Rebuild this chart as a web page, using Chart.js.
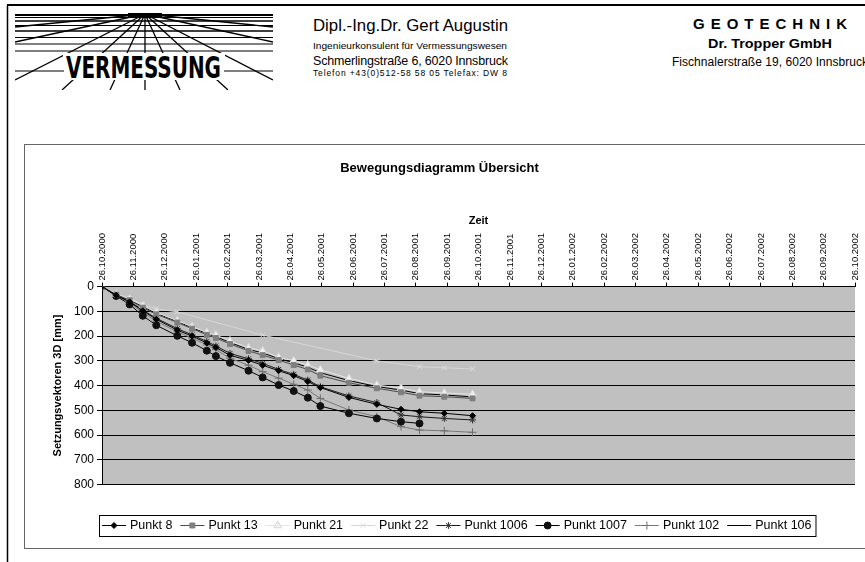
<!DOCTYPE html>
<html lang="de">
<head>
<meta charset="utf-8">
<title>Bewegungsdiagramm Übersicht</title>
<script src="https://cdn.jsdelivr.net/npm/chart.js@4.4.1/dist/chart.umd.min.js"></script>
<style>
  html, body { margin: 0; padding: 0; background: #fff; }
  body { width: 865px; height: 562px; position: relative; overflow: hidden;
         font-family: "Liberation Sans", Arial, sans-serif; }
  #blatt { position: absolute; left: 0; top: 0; }
  #diagrammRahmen { position: absolute; left: 24px; top: 144px; width: 854px; height: 405px;
                    border: 1px solid #666; box-sizing: border-box; }
  #diagramm { position: absolute; left: -1px; top: -1px; }
</style>
</head>
<body>

<!-- Briefkopf: Logo, Adressen, Blattrahmen -->
<svg id="blatt" width="865" height="562" xmlns="http://www.w3.org/2000/svg"
     font-family="'Liberation Sans', Arial, sans-serif">
  <line x1="7" y1="5" x2="865" y2="5" stroke="#000" stroke-width="2"/>
  <line x1="7.5" y1="5" x2="7.5" y2="562" stroke="#000" stroke-width="1.5"/>

  <defs><clipPath id="logoClip"><rect x="15" y="13" width="258" height="77"/></clipPath></defs>
  <g stroke="#000" clip-path="url(#logoClip)">
    <line x1="15" y1="15" x2="273" y2="15" stroke-width="2"/>
    <line x1="15" y1="17.5" x2="273" y2="17.5" stroke-width="1"/>
    <line x1="15" y1="21" x2="273" y2="21" stroke-width="1.5"/>
    <line x1="15" y1="25.5" x2="273" y2="25.5" stroke-width="1"/>
    <line x1="15" y1="31" x2="273" y2="31" stroke-width="1.5"/>
    <line x1="15" y1="37.5" x2="273" y2="37.5" stroke-width="1"/>
    <line x1="15" y1="44" x2="273" y2="44" stroke-width="1"/>
    <line x1="15" y1="51" x2="273" y2="51" stroke-width="1.2"/>
    <g stroke-width="1.3">
      <line x1="145" y1="14" x2="15" y2="27"/>
      <line x1="145" y1="14" x2="15" y2="42"/>
      <line x1="145" y1="14" x2="15" y2="80"/>
      <line x1="145" y1="14" x2="62" y2="90"/>
      <line x1="145" y1="14" x2="110" y2="90"/>
      <line x1="145" y1="14" x2="145" y2="90"/>
      <line x1="145" y1="14" x2="180" y2="90"/>
      <line x1="145" y1="14" x2="228" y2="90"/>
      <line x1="145" y1="14" x2="273" y2="80"/>
      <line x1="145" y1="14" x2="273" y2="42"/>
      <line x1="145" y1="14" x2="273" y2="27"/>
    </g>
    <rect x="128" y="13" width="34" height="4" fill="#000" stroke="none"/>
  </g>
  <rect x="63" y="53" width="162" height="27" fill="#fff"/>
  <line x1="15" y1="71" x2="64" y2="71" stroke="#000" stroke-width="1.2"/>
  <line x1="224" y1="71" x2="273" y2="71" stroke="#000" stroke-width="1.2"/>
  <text x="66" y="78" font-size="31" font-weight="bold" textLength="155" lengthAdjust="spacingAndGlyphs"
        font-family="'Liberation Sans Narrow', 'DejaVu Sans Condensed', sans-serif">VERMESSUNG</text>

  <text x="313" y="30.5" font-size="16" textLength="195" lengthAdjust="spacingAndGlyphs">Dipl.-Ing.Dr. Gert Augustin</text>
  <text x="313" y="48.5" font-size="9.5" textLength="194" lengthAdjust="spacingAndGlyphs">Ingenieurkonsulent für  Vermessungswesen</text>
  <text x="313" y="65" font-size="12.5" textLength="195" lengthAdjust="spacing">Schmerlingstraße 6, 6020 Innsbruck</text>
  <text x="313" y="76" font-size="8.5" textLength="194" lengthAdjust="spacing">Telefon +43(0)512-58 58 05   Telefax: DW 8</text>

  <text x="770" y="29" font-size="15" font-weight="bold" text-anchor="middle" textLength="154" lengthAdjust="spacing">GEOTECHNIK</text>
  <text x="770" y="47.5" font-size="13" font-weight="bold" text-anchor="middle" textLength="124" lengthAdjust="spacingAndGlyphs">Dr. Tropper GmbH</text>
  <text x="672" y="66" font-size="12" textLength="196" lengthAdjust="spacing">Fischnalerstraße 19, 6020 Innsbruck</text>
</svg>

<div id="diagrammRahmen"><canvas id="diagramm" width="854" height="405"></canvas></div>

<script>
/* ─── Daten ─── */
// Achsbeschriftung Zeit (monatlich ab 26.10.2000)
const ZEIT_LABELS = [
  '26.10.2000','26.11.2000','26.12.2000','26.01.2001','26.02.2001','26.03.2001',
  '26.04.2001','26.05.2001','26.06.2001','26.07.2001','26.08.2001','26.09.2001',
  '26.10.2001','26.11.2001','26.12.2001','26.01.2002','26.02.2002','26.03.2002',
  '26.04.2002','26.05.2002','26.06.2002','26.07.2002','26.08.2002','26.09.2002',
  '26.10.2002'
];

// Messzeitpunkte in Monaten seit 26.10.2000
const MESS_MONATE = [0, 0.45, 0.88, 1.30, 1.73, 2.40, 2.87, 3.34, 3.63, 4.08, 4.67,
                     5.12, 5.63, 6.11, 6.56, 6.96, 7.87, 8.76, 9.53, 10.12, 10.91, 11.81];

// Setzungsvektoren 3D [mm]
const PUNKT_8    = [0, 35, 62, 98, 132, 176, 200, 228, 246, 278, 298, 318, 340, 360, 384, 408, 448, 476, 496, 506, 512, 522];
const PUNKT_13   = [0, 32, 55, 85, 112, 145, 170, 195, 208, 232, 260, 277, 297, 317, 335, 360, 389, 411, 427, 441, 445, 452];
const PUNKT_21   = [0, 30, 50, 77, 104, 138, 162, 185, 196, 220, 248, 260, 286, 300, 317, 336, 371, 398, 411, 425, 430, 435];
const PUNKT_22   = [0, 30, 48, 72, 90, 102, null, null, null, null, null, 196, null, null, null, null, null, 300, null, 324, 328, 333];
const PUNKT_1006 = [0, 33, 60, 95, 128, 170, 195, 222, 240, 270, 292, 310, 335, 355, 378, 405, 442, 469, 519, 526, 533, 539];
const PUNKT_1007 = [0, 38, 72, 118, 156, 199, 227, 259, 281, 308, 340, 367, 398, 422, 449, 483, 512, 533, 546, 553, null, null];
const PUNKT_102  = [0, 35, 65, 105, 140, 183, 208, 236, 255, 290, 318, 344, 370, 395, 418, 452, 499, 526, 566, 580, 583, 589];
const PUNKT_106  = [0, 32, 53, 81, 108, 141, 166, 190, 202, 226, 254, 268, 291, 308, 326, 348, 380, 404, 418, 433, 438, 446];

const SCHRIFT = "'Liberation Sans', Arial, sans-serif";
const TICK_SCHRIFT = 9.5;

function punkte(werte) {
  return MESS_MONATE.map((m, i) => ({ x: m, y: werte[i] }));
}

function serie(label, werte, stil) {
  return Object.assign({
    label,
    data: punkte(werte),
    borderWidth: 1,
    pointBorderWidth: 1,
    spanGaps: true,
    tension: 0,
  }, stil);
}

const datasets = [
  serie('Punkt 8', PUNKT_8, { borderColor: '#000', pointStyle: 'rectRot', pointRadius: 3,
    pointBackgroundColor: '#000', pointBorderColor: '#000' }),
  serie('Punkt 13', PUNKT_13, { borderColor: '#4a4a4a', pointStyle: 'rect', pointRadius: 3.5,
    pointBackgroundColor: '#7f7f7f', pointBorderColor: '#7f7f7f' }),
  serie('Punkt 21', PUNKT_21, { borderColor: '#e4e4e4', pointStyle: 'triangle', pointRadius: 4.5,
    pointBackgroundColor: '#f0f0f0', pointBorderColor: '#d8d8d8' }),
  serie('Punkt 22', PUNKT_22, { borderColor: '#d6d6d6', pointStyle: 'crossRot', pointRadius: 3.5,
    pointBackgroundColor: '#d6d6d6', pointBorderColor: '#dedede' }),
  serie('Punkt 1006', PUNKT_1006, { borderColor: '#1a1a1a', pointStyle: 'star', pointRadius: 3.5,
    pointBackgroundColor: '#333', pointBorderColor: '#333' }),
  serie('Punkt 1007', PUNKT_1007, { borderColor: '#000', pointStyle: 'circle', pointRadius: 3.5,
    pointBackgroundColor: '#111', pointBorderColor: '#111' }),
  serie('Punkt 102', PUNKT_102, { borderColor: '#7a7a7a', pointStyle: 'cross', pointRadius: 4,
    pointBackgroundColor: '#6e6e6e', pointBorderColor: '#6e6e6e' }),
  serie('Punkt 106', PUNKT_106, { borderColor: '#000', pointRadius: 0, pointStyle: false }),
];

/* ─── grauer Zeichenbereich ─── */
const plotHintergrund = {
  id: 'plotHintergrund',
  beforeDraw(chart) {
    const { ctx, chartArea: a } = chart;
    ctx.save();
    ctx.fillStyle = '#c0c0c0';
    ctx.fillRect(a.left, a.top, a.width, a.height);
    ctx.restore();
  }
};

/* ─── Legende im Excel-Stil: Linie mit Marker, Kasten drumherum ─── */
const excelLegende = {
  id: 'excelLegende',
  afterDraw(chart) {
    const ctx = chart.ctx;
    const boxLinks = 75, boxOben = 371, boxHoehe = 21;
    const yMitte = boxOben + boxHoehe / 2;
    ctx.save();
    ctx.font = '12.5px ' + SCHRIFT;
    ctx.textBaseline = 'middle';
    let x = boxLinks + 3;
    chart.data.datasets.forEach(ds => {
      ctx.strokeStyle = ds.borderColor;
      ctx.lineWidth = 1;
      ctx.beginPath();
      ctx.moveTo(x, yMitte);
      ctx.lineTo(x + 24, yMitte);
      ctx.stroke();
      if (ds.pointStyle && ds.pointRadius > 0) {
        ctx.fillStyle = ds.pointBackgroundColor;
        ctx.strokeStyle = ds.pointBorderColor;
        Chart.helpers.drawPoint(ctx, {
          pointStyle: ds.pointStyle, radius: ds.pointRadius, rotation: 0, borderWidth: 1
        }, x + 12, yMitte);
      }
      x += 28;
      ctx.fillStyle = '#000';
      ctx.fillText(ds.label, x, yMitte + 0.5);
      x += ctx.measureText(ds.label).width + 8;
    });
    ctx.strokeStyle = '#000';
    ctx.lineWidth = 1;
    ctx.strokeRect(boxLinks + 0.5, boxOben + 0.5, x - boxLinks - 4, boxHoehe);
    ctx.restore();
  }
};

new Chart(document.getElementById('diagramm').getContext('2d'), {
  type: 'line',
  data: { datasets },
  plugins: [plotHintergrund, excelLegende],
  options: {
    responsive: false,
    animation: false,
    events: [],
    layout: { padding: { left: 0, right: 23, top: 0, bottom: 64.5 } },
    plugins: {
      legend: { display: false },
      tooltip: { enabled: false },
      title: {
        display: true,
        text: 'Bewegungsdiagramm Übersicht',
        color: '#000',
        font: { family: SCHRIFT, size: 13, weight: 'bold' },
        padding: { top: 17, bottom: 0 },
      },
    },
    scales: {
      x: {
        type: 'linear',
        position: 'top',
        min: 0,
        max: ZEIT_LABELS.length - 1,
        afterBuildTicks: s => { s.ticks = ZEIT_LABELS.map((_, i) => ({ value: i })); },
        afterFit: s => { s.height = 110; },
        ticks: {
          autoSkip: false,
          minRotation: 90,
          maxRotation: 90,
          padding: 2,
          // gedrehte Beschriftung wieder mittig auf den Teilstrich setzen
          labelOffset: TICK_SCHRIFT * 1.2,
          color: '#000',
          font: { family: SCHRIFT, size: TICK_SCHRIFT },
          callback: v => ZEIT_LABELS[v],
        },
        grid: { drawOnChartArea: false, drawTicks: true, tickLength: 4, color: '#000' },
        border: { color: '#000', width: 1 },
        title: {
          display: true,
          text: 'Zeit',
          color: '#000',
          font: { family: SCHRIFT, size: 11, weight: 'bold' },
          padding: { top: 37.8, bottom: 0 },
        },
      },
      y: {
        reverse: true,
        min: 0,
        max: 800,
        afterFit: s => { s.width = 78; },
        ticks: {
          stepSize: 100,
          padding: 3,
          color: '#000',
          font: { family: SCHRIFT, size: 12 },
        },
        grid: { color: '#000', lineWidth: 1, tickLength: 5 },
        border: { color: '#000', width: 1 },
        title: {
          display: true,
          text: 'Setzungsvektoren 3D [mm]',
          color: '#000',
          font: { family: SCHRIFT, size: 11, weight: 'bold' },
          padding: { top: 27.4, bottom: 0 },
        },
      },
    },
  },
});
</script>
</body>
</html>
